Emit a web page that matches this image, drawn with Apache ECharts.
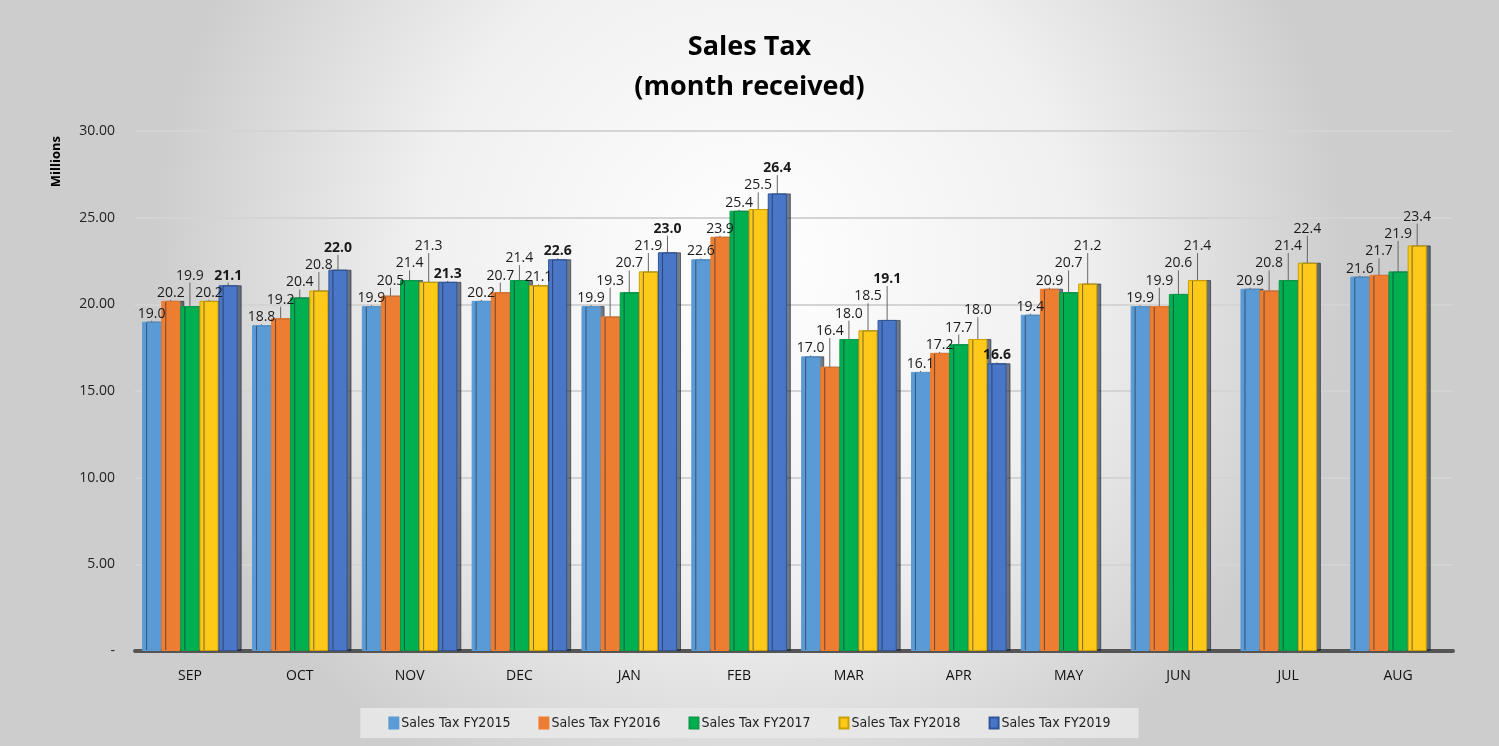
<!DOCTYPE html>
<html>
<head>
<meta charset="utf-8">
<script src="https://cdn.jsdelivr.net/npm/echarts@6/dist/echarts.min.js"></script>
<style>
  html, body { margin: 0; padding: 0; }
  #chart { width: 1499px; height: 746px; }
</style>
</head>
<body>
<div id="chart"></div>
<script>
const months = ['SEP', 'OCT', 'NOV', 'DEC', 'JAN', 'FEB', 'MAR', 'APR', 'MAY', 'JUN', 'JUL', 'AUG'];
const fy2015 = [19.0, 18.8, 19.9, 20.2, 19.9, 22.6, 17.0, 16.1, 19.4, 19.9, 20.9, 21.6];
const fy2016 = [20.2, 19.2, 20.5, 20.7, 19.3, 23.9, 16.4, 17.2, 20.9, 19.9, 20.8, 21.7];
const fy2017 = [19.9, 20.4, 21.4, 21.4, 20.7, 25.4, 18.0, 17.7, 20.7, 20.6, 21.4, 21.9];
const fy2018 = [20.2, 20.8, 21.3, 21.1, 21.9, 25.5, 18.5, 18.0, 21.2, 21.4, 22.4, 23.4];
const fy2019 = [21.1, 22.0, 21.3, 22.6, 23.0, 26.4, 19.1, 16.6, null, null, null, null];
const yTicks = [0, 5, 10, 15, 20, 25, 30];

const allSeries = [fy2015, fy2016, fy2017, fy2018, fy2019];

// stagger labels of neighbouring bars so they don't sit on each other
// (levels are in value units, ~1 unit is one label height)
const labelLevels = allSeries.map(() => []);
months.forEach((m, j) => {
	let prev = null;
	allSeries.forEach((arr, s) => {
		const v = arr[j];
		if (v == null) return;
		let lv = v;
		if (prev != null && Math.abs(lv - prev) < 1.0) lv = prev + 1.0;
		labelLevels[s][j] = lv;
		prev = lv;
	});
});

const chart = echarts.init(document.getElementById('chart'));

const makeSeries = (name, data, color, border, bold) => ({
	name: name,
	type: 'bar',
	data: data,
	barGap: '0%',
	barCategoryGap: '13%',
	itemStyle: {
		color: color,
		borderColor: border,
		borderWidth: 1,
		shadowColor: 'rgba(25,35,55,0.6)',
		shadowOffsetX: 4,
		shadowOffsetY: 0,
		shadowBlur: 0,
	},
	label: {
		show: true,
		position: 'top',
		distance: 1,
		formatter: p => p.value == null ? '' : p.value.toFixed(1),
		color: '#1a1a1a',
		fontFamily: 'Open Sans',
		fontSize: 14,
		fontWeight: bold ? 'bold' : 'normal',
	},
	labelLayout: function (p) {
		const v = allSeries[p.seriesIndex][p.dataIndex];
		if (v == null || !p.rect.height) return {};
		const ppu = p.rect.height / v;
		return { dy: -(labelLevels[p.seriesIndex][p.dataIndex] - v) * ppu };
	},
	labelLine: { show: true, lineStyle: { color: '#666', width: 1 } },
});

const option = {
	backgroundColor: {
		type: 'radial', x: 0.5, y: 0.35, r: 0.8,
		colorStops: [
			{ offset: 0, color: '#ffffff' },
			{ offset: 0.55, color: '#f0f0f0' },
			{ offset: 1, color: '#cdcdcd' },
		],
	},
	animation: false,
	title: {
		text: 'Sales Tax\n(month received)',
		left: 'center',
		top: 22,
		textStyle: {
			fontFamily: 'Open Sans',
			fontSize: 27,
			fontWeight: 'bold',
			color: '#000',
			lineHeight: 40,
		},
	},
	graphic: [{
		type: 'text',
		left: 50,
		top: 136,
		rotation: Math.PI / 2,
		style: {
			text: 'Millions',
			font: 'bold 13px "Open Sans"',
			fill: '#000',
		},
	}],
	legend: {
		bottom: 8,
		left: 'center',
		itemWidth: 9,
		itemHeight: 11,
		itemGap: 28,
		padding: [8, 28],
		backgroundColor: 'rgba(232,232,232,0.9)',
		icon: 'rect',
		textStyle: { fontFamily: 'DejaVu Sans Condensed, Roboto', fontSize: 14, color: '#222', padding: [0, 0, 0, -2] },
	},
	grid: { left: 135, right: 46, top: 131, bottom: 95 },
	xAxis: {
		type: 'category',
		data: months,
		axisTick: { show: false },
		axisLine: { lineStyle: { color: '#555', width: 4 } },
		axisLabel: { fontFamily: 'Open Sans', fontSize: 14, color: '#111', margin: 18 },
	},
	yAxis: {
		type: 'value',
		min: yTicks[0],
		max: yTicks[yTicks.length - 1],
		interval: 5,
		axisLabel: {
			fontFamily: 'Open Sans',
			fontSize: 14,
			color: '#222',
			margin: 20,
			formatter: v => v === 0 ? '-' : v.toFixed(2),
		},
		splitLine: { lineStyle: { color: '#d4d4d4', width: 2 } },
		axisLine: { show: false },
		axisTick: { show: false },
	},
	series: [
		makeSeries('Sales Tax FY2015', fy2015, '#5b9bd5', '#5b9bd5', false),
		makeSeries('Sales Tax FY2016', fy2016, '#ed7d31', '#ed7d31', false),
		makeSeries('Sales Tax FY2017', fy2017, '#00b050', '#0a9a48', false),
		makeSeries('Sales Tax FY2018', fy2018, '#ffc91a', '#c9a000', false),
		makeSeries('Sales Tax FY2019', fy2019, '#4a76c8', '#2f5597', true),
	],
};

chart.setOption(option);
</script>
</body>
</html>
